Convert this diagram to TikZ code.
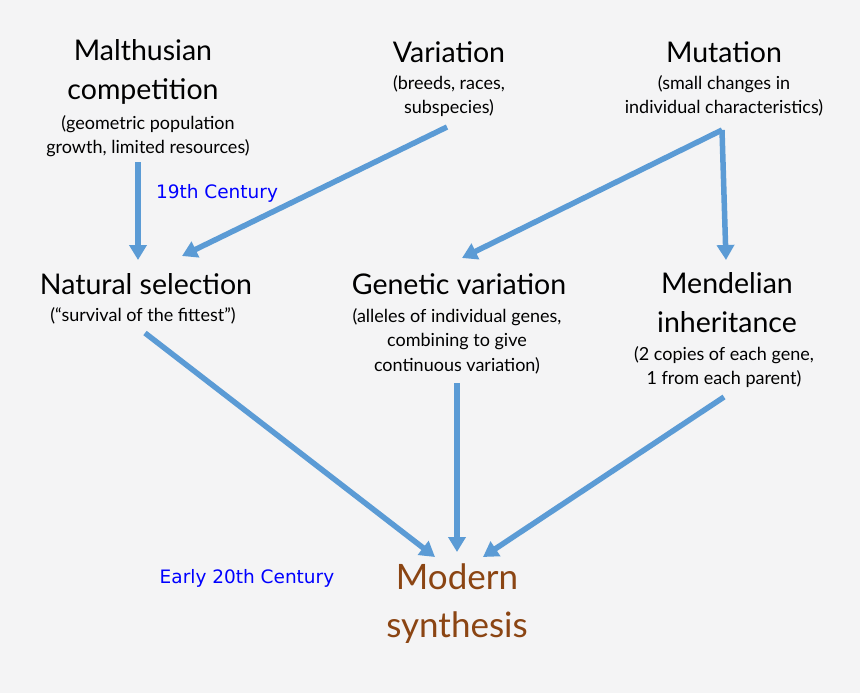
\documentclass[tikz,border=0pt]{standalone}
\usepackage{fontspec}
\setmainfont{Lato}
\newfontfamily\dvs{DejaVu Sans}
\usetikzlibrary{arrows.meta}
\definecolor{arr}{HTML}{5B9BD5}
\definecolor{brn}{HTML}{8B4513}
\definecolor{bg}{HTML}{F4F4F5}
\tikzset{
 ttl/.style={font=\fontsize{28.5}{39}\selectfont,align=center,inner sep=0pt},
 sub/.style={font=\fontsize{18}{24.5}\selectfont,align=center,inner sep=0pt},
 era/.style={font=\dvs\fontsize{18.5}{20}\selectfont,text=blue,inner sep=0pt},
 conn/.style={draw=arr,line width=5.5pt,-{Triangle[length=15pt,width=17pt]}}
}
\begin{document}
\begin{tikzpicture}[x=1pt,y=-1pt]
\useasboundingbox[fill=bg] (0,0) rectangle (860,693);
\node[ttl] (malt) at (143,72) {Malthusian\\competition};
\node[sub] at (148,136) {(geometric population\\growth, limited resources)};
\node[ttl] (var) at (449,52) {Variation};
\node[sub] at (449,96) {(breeds, races,\\subspecies)};
\node[ttl] (mut) at (724,52) {Mutation};
\node[sub] at (724,96) {(small changes in\\individual characteristics)};
\node[era] at (217,193) {19th Century};
\node[ttl] (nat) at (146,284) {Natural selection};
\node[sub] at (143,316) {(“survival of the fittest”)};
\node[ttl] (gen) at (459,284) {Genetic variation};
\node[sub] at (457,341) {(alleles of individual genes,\\combining to give\\continuous variation)};
\node[ttl] (men) at (727,303) {Mendelian\\inheritance};
\node[sub] at (724,367) {(2 copies of each gene,\\1 from each parent)};
\node[era] at (247,578) {Early 20th Century};
\node[font=\fontsize{35}{48}\selectfont,text=brn,align=center,inner sep=0pt] (mod) at (457,604) {Modern\\synthesis};
\coordinate (maltS) at (138,162); \coordinate (natN) at (138,260);
\coordinate (varS) at (447,127); \coordinate (natNE) at (182,256);
\coordinate (mutS) at (722,130); \coordinate (genN) at (462,258);
\coordinate (menN) at (726,260);
\coordinate (natS) at (145,333); \coordinate (modNW) at (435,557);
\coordinate (genS) at (457,383); \coordinate (modN) at (457,552);
\coordinate (menS) at (724,397); \coordinate (modNE) at (483,557);
\draw[conn] (maltS) -- (natN);
\draw[conn] (varS) -- (natNE);
\draw[conn] (mutS) -- (genN);
\draw[conn] (mutS) -- (menN);
\draw[conn] (natS) -- (modNW);
\draw[conn] (genS) -- (modN);
\draw[conn] (menS) -- (modNE);
\end{tikzpicture}
\end{document}
